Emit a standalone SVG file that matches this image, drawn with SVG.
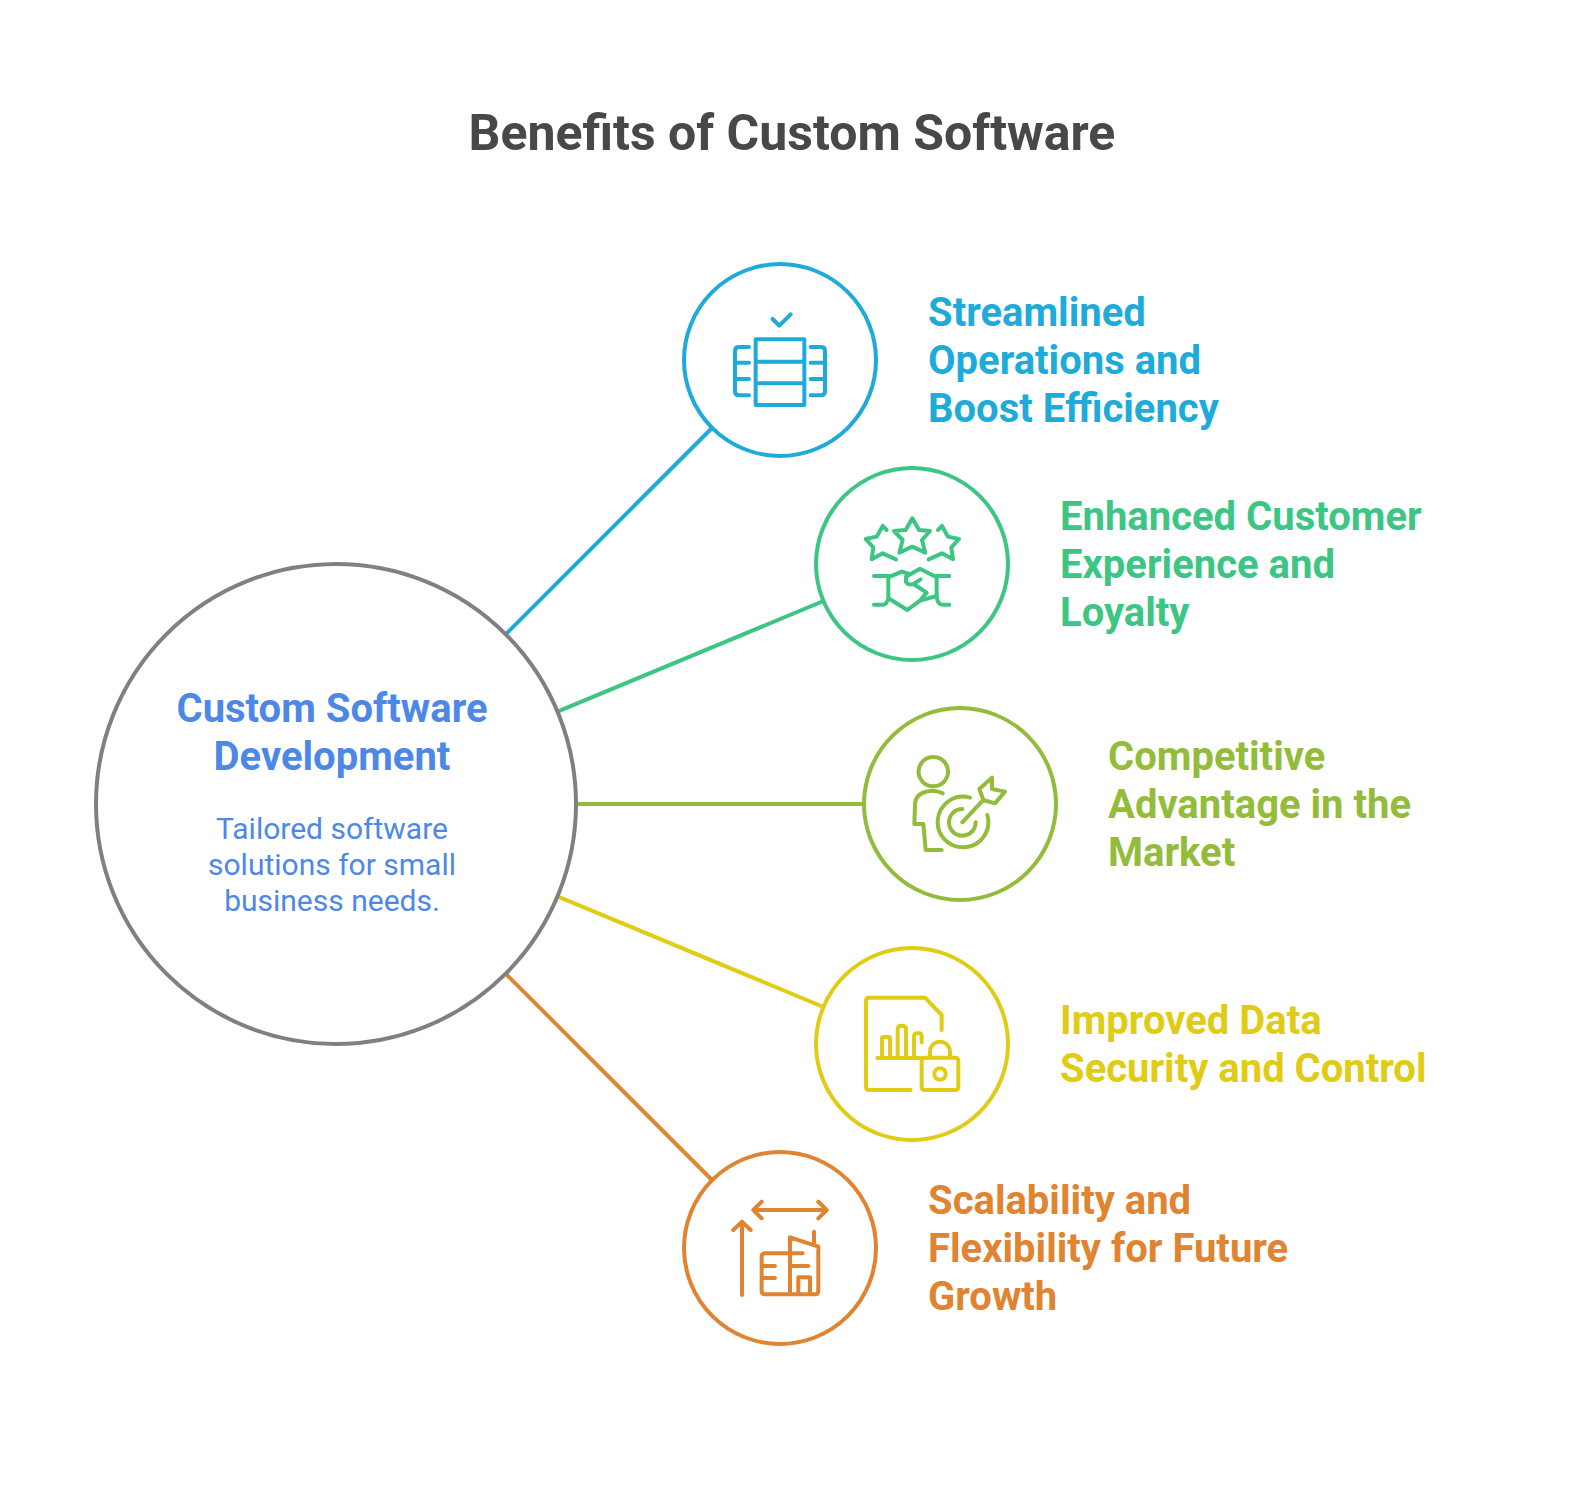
<svg xmlns="http://www.w3.org/2000/svg" width="1584" height="1488" viewBox="0 0 1584 1488">
<style>
text{font-family:Roboto,"Liberation Sans",sans-serif}
.t{font-size:50px;font-weight:700;fill:#484848;text-anchor:middle}
.l{font-size:40px;font-weight:700}
.c{fill:#fff;stroke-width:4}
.i{fill:none;stroke-width:12;stroke-linecap:round;stroke-linejoin:round}
.con{fill:none;stroke-width:4}
.a{stroke:#1eabda}.b{stroke:#3cc583}.d{stroke:#92bc39}.e{stroke:#e0cc15}.f{stroke:#e08431}
</style>
<rect width="1584" height="1488" fill="#fff"/>
<text class="t" x="792" y="150">Benefits of Custom Software</text>
<g id="connectors" class="con">
<line class="a" x1="506" y1="634" x2="712" y2="428"/>
<line class="b" x1="557.5" y1="711.7" x2="823.4" y2="601"/>
<line class="d" x1="576" y1="804" x2="864" y2="804"/>
<line class="e" x1="557.5" y1="896.3" x2="823.4" y2="1007"/>
<line class="f" x1="506" y1="974" x2="712" y2="1180"/>
</g>
<g id="center">
<circle class="c" cx="336" cy="804" r="240" stroke="#808080"/>
<text text-anchor="middle" fill="#4e88e7" class="l"><tspan x="332" y="722">Custom Software</tspan><tspan x="332" y="770">Development</tspan></text>
<text text-anchor="middle" fill="#4e88e7" font-size="30"><tspan x="332" y="839">Tailored software</tspan><tspan x="332" y="875">solutions for small</tspan><tspan x="332" y="911">business needs.</tspan></text>
</g>
<g id="node1">
<circle class="c a" cx="780" cy="360" r="96"/>
<path class="i a" transform="translate(690 270) scale(.3333)" d="M248 147L268 167L302 133M197 208H343V405H197ZM197 275H343M197 340H343M177 231H147Q135 231 135 243V364Q135 376 147 376H177M135 278H177M135 327H177M362 231H393Q405 231 405 243V364Q405 376 393 376H362M362 278H405M362 327H405"/>
<text class="l" fill="#1eabda"><tspan x="928" y="326">Streamlined</tspan><tspan x="928" y="374">Operations and</tspan><tspan x="928" y="422">Boost Efficiency</tspan></text>
</g>
<g id="node2">
<circle class="c b" cx="912" cy="564" r="96"/>
<path class="i b" transform="translate(820 470) scale(.3333)" d="M277 145L297 180L330 183L306 210L316 248L277 230L238 248L248 210L222 183L257 180ZM200 180L188 168L170 200L137 207L160 232L155 268L188 250L228 268M354 180L366 168L384 200L417 207L394 232L399 268L366 250L326 268M162 318H205V385M162 404H190Q200 404 205 385M205 385L262 420L300 392L350 378M388 318H350V378Q352 404 368 404H388M205 322L245 305L268 312M350 322L300 296L258 320V335Q262 345 278 343L302 328M285 345L320 368L300 392"/>
<text class="l" fill="#3cc583"><tspan x="1060" y="530">Enhanced Customer</tspan><tspan x="1060" y="578">Experience and</tspan><tspan x="1060" y="626">Loyalty</tspan></text>
</g>
<g id="node3">
<circle class="c d" cx="960" cy="804" r="96"/>
<path class="i d" transform="translate(870 715) scale(.3333)" d="M190 126A44 44 0 1 1 189.9 126ZM218 235Q200 226 180 228Q135 234 135 270L133 327H160L167 405H215M300 248A76 76 0 1 0 352 300M277 282A40 40 0 1 0 317 322M277 322L340 255M340 255L328 222L366 188V222L405 230L375 265Z"/>
<text class="l" fill="#92bc39"><tspan x="1108" y="770">Competitive</tspan><tspan x="1108" y="818">Advantage in the</tspan><tspan x="1108" y="866">Market</tspan></text>
</g>
<g id="node4">
<circle class="c e" cx="912" cy="1044" r="96"/>
<path class="i e" transform="translate(820 955) scale(.3333)" d="M272 405H148Q138 405 138 395V138Q138 128 148 128H315L365 180V225M172 309H302M186 309V250Q186 246 190 246H206Q210 246 210 250V309M233 309V222Q233 212 245 212Q258 212 258 222V309M282 309V245Q282 235 292 235H298Q305 235 305 245V262M315 308H405Q415 308 415 318V395Q415 405 405 405H315Q305 405 305 395V318Q305 308 315 308ZM330 305V290A30 30 0 0 1 390 290V305"/>
<circle cx="940" cy="1074" r="5.7" fill="none" stroke-width="4" class="e"/>
<text class="l" fill="#e0cc15"><tspan x="1060" y="1034">Improved Data</tspan><tspan x="1060" y="1082">Security and Control</tspan></text>
</g>
<g id="node5">
<circle class="c f" cx="780" cy="1248" r="96"/>
<path class="i f" transform="translate(690 1160) scale(.3333)" d="M190 150H410M215 125L190 150L215 175M385 125L410 150L385 175M156 405V185M130 210L156 185L182 210M338 280H225Q215 280 215 290V393Q215 403 225 403H375Q385 403 385 393V260L300 232V403M372 215V250M215 318H255M215 354H255M300 318H355M325 403V352H360V403"/>
<text class="l" fill="#e08431"><tspan x="928" y="1214">Scalability and</tspan><tspan x="928" y="1262">Flexibility for Future</tspan><tspan x="928" y="1310">Growth</tspan></text>
</g>
</svg>
